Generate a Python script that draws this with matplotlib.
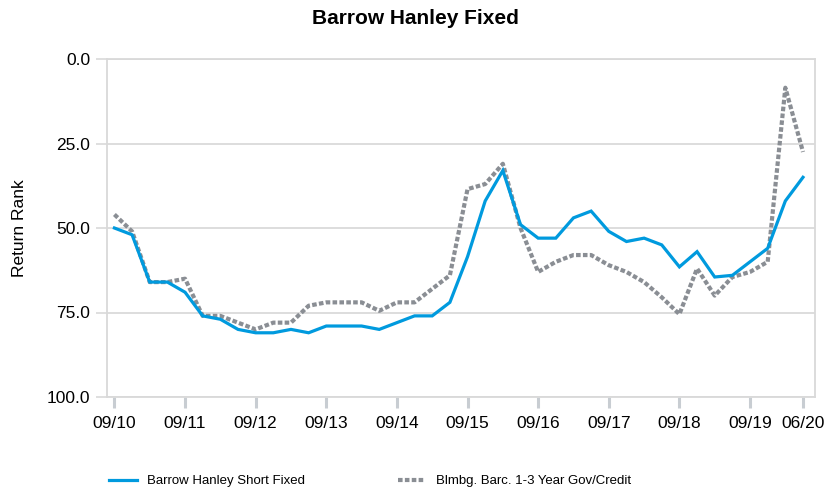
import matplotlib
matplotlib.use("Agg")
import matplotlib.pyplot as plt
from matplotlib import font_manager

names = {f.name for f in font_manager.fontManager.ttflist}
base_font = "Liberation Sans"
narrow_font = "Liberation Sans Narrow" if "Liberation Sans Narrow" in names else "Liberation Sans"
plt.rcParams['font.family'] = [base_font, 'DejaVu Sans']

title = "Barrow Hanley Fixed"
ylabel = "Return Rank"
series_names = ["Barrow Hanley Short Fixed", "Blmbg. Barc. 1-3 Year Gov/Credit"]
tick_labels = ["09/10", "09/11", "09/12", "09/13", "09/14", "09/15",
               "09/16", "09/17", "09/18", "09/19", "06/20"]
tick_positions = [0, 4, 8, 12, 16, 20, 24, 28, 32, 36, 39]

fund = [50, 52, 66, 66, 69, 76, 77, 80, 81, 81, 80, 81, 79, 79,
        79, 80, 78, 76, 76, 72, 58.5, 42, 33, 49, 53, 53, 47,
        45, 51, 54, 53, 55, 61.5, 57, 64.5, 64, 60, 56, 42, 35]
bench = [46, 51, 66, 66, 65, 76, 76, 78, 80, 78, 78, 73, 72, 72,
         72, 74.5, 72, 72, 68, 64, 38.5, 37, 31, 50, 63, 60, 58,
         58, 61, 63, 66, 70.5, 75.5, 62, 70, 64.5, 63, 60, 8.5, 27.5]

x = list(range(len(fund)))

fig = plt.figure(figsize=(8.30, 4.92), dpi=100)
ax = fig.add_axes([107/830, 1-397/492, (815-107)/830, (397-59)/492])

ax.plot(x, fund, color="#009ADE", lw=2.3, solid_joinstyle="miter", label=series_names[0], zorder=3)
ax.plot(x, bench, color="#8A8E94", lw=3.0, linestyle=(0, (1.1, 0.55)),
        dash_capstyle="butt", label=series_names[1], zorder=2)

ax.set_ylim(100, 0)
ax.set_xlim(-0.42, 39.68)
ax.set_yticks([0, 25, 50, 75, 100])
ax.set_yticklabels(["0.0", "25.0", "50.0", "75.0", "100.0"])
ax.set_xticks(tick_positions)
ax.set_xticklabels(tick_labels)

ax.yaxis.grid(True, color="#DADADA", lw=1.3)
ax.set_axisbelow(True)
for sp in ax.spines.values():
    sp.set_color("#D9D9D9")
    sp.set_linewidth(1.3)

ax.tick_params(axis="y", length=8, width=1.2, color="#D9D9D9", labelsize=12.5,
               pad=4, labelcolor="black")
ax.tick_params(axis="x", length=8, width=2.2, color="#C8CDD2", labelsize=12.5,
               pad=6, direction="out", labelcolor="black")

ax.set_ylabel(ylabel, fontsize=12.5, labelpad=14)
fig.text(0.5, 1-18/492, title, ha="center", va="center", fontsize=15, fontweight="bold")

leg = fig.legend(loc="center left", bbox_to_anchor=(97/830, 1-481/492), ncol=2,
                 frameon=False, prop={"family": narrow_font, "size": 9.5},
                 handlelength=2.1, handletextpad=0.8, columnspacing=7.0)

fig.savefig("out.png", dpi=100)
